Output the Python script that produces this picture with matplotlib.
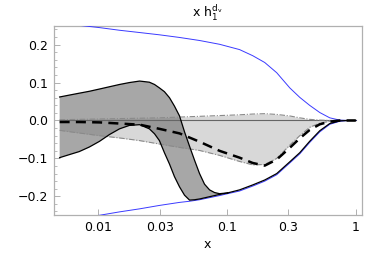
import numpy as np
import matplotlib
matplotlib.use("Agg")
import matplotlib.pyplot as plt
from matplotlib.ticker import FixedLocator, MultipleLocator, NullLocator

# ---------------- data ----------------
# upper blue bound
x_ub = [0.005, 0.0071, 0.0102, 0.0146, 0.0209, 0.0298, 0.0427, 0.0611, 0.0874, 0.125,
        0.158, 0.196, 0.243, 0.307, 0.367, 0.438, 0.525, 0.628, 0.751, 0.866, 1.0]
y_ub = [0.258, 0.251, 0.245, 0.238, 0.232, 0.226, 0.219, 0.211, 0.201, 0.187,
        0.171, 0.153, 0.126, 0.086, 0.061, 0.040, 0.021, 0.007, 0.001, 0.0, 0.0]

# lower blue bound
x_lb = [0.005, 0.0071, 0.0102, 0.0146, 0.0209, 0.0298, 0.0427, 0.0511, 0.0611, 0.0874,
        0.101, 0.125, 0.158, 0.196, 0.243, 0.307, 0.367, 0.438, 0.525, 0.628, 0.751, 0.866, 1.0]
y_lb = [-0.267, -0.258, -0.250, -0.241, -0.233, -0.224, -0.216, -0.213, -0.209, -0.198,
        -0.193, -0.186, -0.173, -0.160, -0.143, -0.112, -0.088, -0.058, -0.030, -0.010, -0.002, 0.0, 0.0]

# dark band (first fit)
x_dark = [0.005, 0.00595, 0.0071, 0.0085, 0.0102, 0.0122, 0.0146, 0.0174, 0.0209, 0.0249,
          0.0273, 0.0298, 0.0326, 0.0357, 0.0390, 0.0427, 0.0467, 0.0511, 0.0559, 0.0611,
          0.0668, 0.0731, 0.0799, 0.0874, 0.101]
dark_hi = [0.062, 0.067, 0.072, 0.077, 0.083, 0.089, 0.095, 0.100, 0.104, 0.101,
           0.095, 0.086, 0.076, 0.060, 0.038, 0.012, -0.030, -0.068, -0.105, -0.140,
           -0.168, -0.183, -0.190, -0.193, -0.191]
dark_lo = [-0.098, -0.090, -0.082, -0.070, -0.055, -0.037, -0.022, -0.013, -0.011, -0.022,
           -0.035, -0.053, -0.085, -0.115, -0.148, -0.175, -0.197, -0.210, -0.209, -0.207,
           -0.204, -0.201, -0.198, -0.195, -0.191]

# black line continuing along the lower bound
x_blk = [0.101, 0.125, 0.158, 0.196, 0.243, 0.307, 0.367, 0.438, 0.525, 0.628, 0.751, 0.866, 1.0]
y_blk = [-0.191, -0.183, -0.170, -0.157, -0.140, -0.109, -0.085, -0.055, -0.027, -0.008, -0.001, 0.0, 0.0]

# light band (second fit)
x_light = [0.005, 0.0071, 0.0102, 0.0146, 0.0209, 0.0298, 0.0427, 0.0611, 0.0874, 0.125,
           0.158, 0.196, 0.243, 0.307, 0.367, 0.438, 0.525, 0.628, 0.751, 0.866, 1.0]
light_hi = [0.002, 0.003, 0.004, 0.005, 0.006, 0.007, 0.009, 0.011, 0.013, 0.015,
            0.017, 0.018, 0.016, 0.012, 0.007, 0.003, 0.001, 0.0, 0.0, 0.0, 0.0]
light_lo = [-0.026, -0.033, -0.040, -0.046, -0.053, -0.062, -0.071, -0.079, -0.092, -0.108,
            -0.117, -0.116, -0.100, -0.065, -0.040, -0.018, -0.007, -0.002, 0.0, 0.0, 0.0]
central = [-0.004, -0.004, -0.005, -0.008, -0.011, -0.022, -0.034, -0.056, -0.080, -0.098,
           -0.112, -0.119, -0.103, -0.072, -0.047, -0.025, -0.010, -0.003, 0.0, 0.0, 0.0]

x_ticks = [0.01, 0.03, 0.1, 0.3, 1]
x_ticklabels = ["0.01", "0.03", "0.1", "0.3", "1"]
y_ticks = [-0.2, -0.1, 0.0, 0.1, 0.2]
y_ticklabels = ["\u22120.2", "\u22120.1", "0.0", "0.1", "0.2"]

# ---------------- figure ----------------
fig = plt.figure(figsize=(3.82, 2.54), dpi=100)
ax = fig.add_axes([0.1406, 0.1524, 0.8063, 0.7464])

ax.fill_between(x_light, light_lo, light_hi, color="#d8d8d8", lw=0, zorder=1)
ax.fill(list(x_dark) + list(x_dark[::-1]), list(dark_hi) + list(dark_lo[::-1]),
        color="#717171", alpha=0.615, lw=0, zorder=2)

ax.plot([x_light[0], x_light[-1]], [0, 0], color="#666666", lw=0.8, zorder=3)
ax.plot(x_light, light_hi, color="#8a8a8a", lw=0.8, ls=(0, (5, 1.5, 1, 1.5)), zorder=3)
ax.plot(x_light, light_lo, color="#8a8a8a", lw=0.8, ls=(0, (5, 1.5, 1, 1.5)), zorder=3)

ax.plot(x_ub, y_ub, color="#3a3aff", lw=0.7, zorder=4)
ax.plot(x_lb, y_lb, color="#3a3aff", lw=0.7, zorder=4)

ax.plot(x_dark, dark_hi, color="black", lw=0.9, zorder=5)
ax.plot(x_dark, dark_lo, color="black", lw=0.9, zorder=5)
ax.plot(x_blk, y_blk, color="black", lw=0.9, zorder=5)

ax.plot(x_light, central, color="black", lw=1.8, ls=(0, (4, 2.5)), zorder=6)

ax.set_xscale("log")
ax.set_xlim(0.005 * 10 ** -0.046, 10 ** 0.046)
ax.set_ylim(-0.25, 0.25)

ax.xaxis.set_major_locator(FixedLocator(x_ticks))
ax.xaxis.set_minor_locator(NullLocator())
ax.set_xticklabels(x_ticklabels)
ax.yaxis.set_major_locator(FixedLocator(y_ticks))
ax.set_yticklabels(y_ticklabels)
ax.yaxis.set_minor_locator(MultipleLocator(0.02))

for s in ax.spines.values():
    s.set_color("#b0b0b0")
    s.set_linewidth(0.9)
ax.tick_params(which="both", direction="in", color="#b0b0b0", labelsize=9, top=False, right=False)
ax.tick_params(which="major", length=4, width=0.7, pad=4)
ax.tick_params(which="minor", length=2, width=0.6)

ax.set_xlabel("x", fontsize=9, labelpad=3)
ax.set_title(r"x $\mathregular{h_1^{d_v}}$", fontsize=9, pad=6)

fig.savefig("out.png", dpi=100)
